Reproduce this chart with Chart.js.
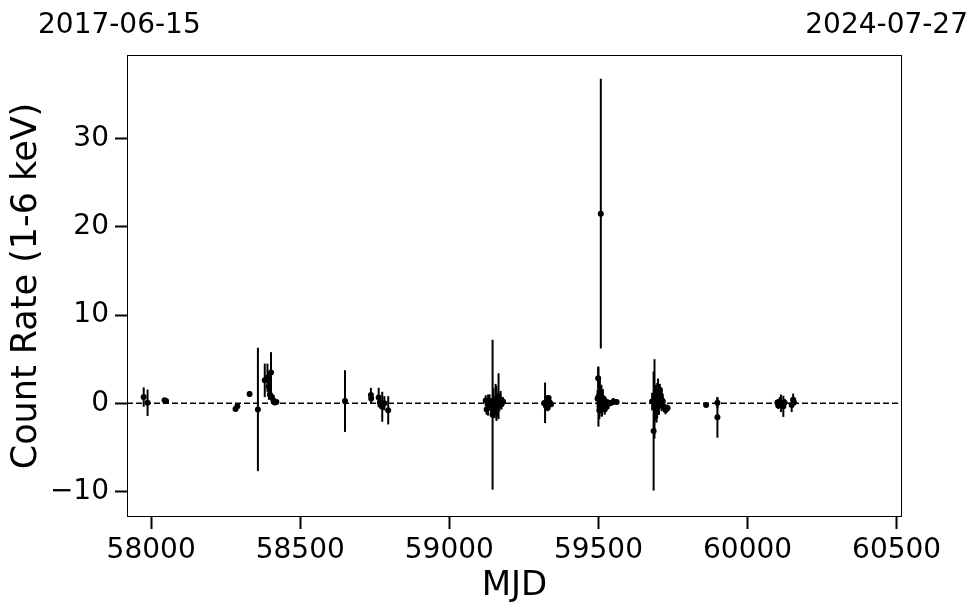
<!DOCTYPE html>
<html>
<head>
<meta charset="utf-8">
<script src="https://cdn.jsdelivr.net/npm/chart.js@4.4.1/dist/chart.umd.min.js"></script>
<style>
html, body { margin: 0; padding: 0; background: #fff; }
</style>
</head>
<body>
<canvas id="lc" width="980" height="613"></canvas>
<script>
// light curve points: MJD, count rate (1-6 keV), 1-sigma error
const mjd = [
	57975, 57988, 58045, 58050, 58283, 58289, 58330, 58358,
	58381, 58390, 58395, 58398, 58402, 58405, 58410, 58414, 58420,
	58650,
	58737, 58738, 58763, 58767, 58775, 58782, 58795,
	59122, 59125, 59130, 59135, 59140, 59145, 59148, 59152, 59155, 59158, 59162, 59165, 59168, 59172, 59175, 59180,
	59318, 59321, 59324, 59327, 59330, 59333, 59337, 59341,
	59497, 59499, 59500, 59503, 59505, 59508, 59510, 59512, 59515, 59518, 59521, 59524, 59528, 59532, 59540, 59550, 59561,
	59680, 59685, 59688, 59690, 59692, 59695, 59697, 59700, 59703, 59706, 59709, 59712, 59716, 59720, 59725, 59732,
	59861, 59899, 59899,
	60100, 60103, 60108, 60112, 60120, 60124, 60148, 60153, 60156
];
const rate = [
	0.7, 0.05, 0.35, 0.25, -0.65, -0.35, 1.05, -0.7,
	2.6, 2.9, 1.9, 1.0, 3.5, 0.7, 0.3, 0.1, 0.15,
	0.25,
	0.95, 0.55, 0.65, 0.1, -0.4, 0.0, -0.8,
	0.3, -0.7, -0.2, 0.1, -0.4, -1.3, 0.2, -0.9, 0.5, 0.0, -0.3, 0.8, 0.1, 0.4, -0.1, 0.2,
	0.0, 0.05, -0.3, 0.3, -0.5, 0.6, 0.1, -0.1,
	0.5, 2.85, 0.75, -0.8, 1.2, 21.5, 0.3, -0.3, 0.6, 0.0, -0.7, 0.2, -0.4, 0.1, 0.0, 0.2, 0.15,
	0.2, -3.15, 0.5, -0.5, 0.9, -1.0, 0.3, 1.0, -0.3, 1.5, 0.9, 0.4, 0.2, -0.4, -0.75, -0.55,
	-0.2, 0.05, -1.6,
	0.1, -0.25, 0.2, 0.0, -0.35, 0.1, -0.2, 0.4, 0.1
];
const rateErr = [
	1.1, 1.5, 0.15, 0.15, 0.15, 0.15, 0.3, 7.0,
	1.9, 1.6, 1.5, 0.6, 2.3, 0.4, 0.3, 0.3, 0.3,
	3.5,
	0.8, 0.5, 1.1, 0.6, 1.7, 0.8, 1.6,
	0.6, 0.6, 1.2, 0.9, 1.0, 8.5, 1.5, 0.8, 1.7, 2.0, 1.3, 2.6, 1.0, 1.0, 0.6, 0.5,
	0.3, 2.3, 0.5, 0.6, 0.4, 0.3, 0.3, 0.2,
	1.0, 1.3, 3.4, 1.0, 1.5, 15.3, 1.8, 1.2, 1.0, 0.8, 0.6, 0.5, 0.4, 0.3, 0.3, 0.4, 0.3,
	1.0, 6.75, 4.5, 1.5, 1.2, 1.2, 2.0, 1.8, 1.0, 0.7, 0.9, 1.3, 0.6, 0.5, 0.5, 0.4,
	0.15, 0.6, 2.3,
	0.3, 0.4, 0.5, 1.0, 1.2, 0.4, 0.8, 0.7, 0.3
];

const xTicks = [58000, 58500, 59000, 59500, 60000, 60500];
const yTicks = [-10, 0, 10, 20, 30];
const xRange = [57919, 60518];
const yRange = [-12.9, 39.5];
const zeroLevel = [0];
const dateLabels = ['2017-06-15', '2024-07-27'];

const FONT = 'DejaVu Sans';

const points = mjd.map((m, i) => ({x: m, y: rate[i]}));

const errorBars = {
	id: 'errorBars',
	beforeDatasetsDraw(chart) {
		const {ctx, chartArea, scales: {x, y}} = chart;
		ctx.save();
		ctx.beginPath();
		ctx.rect(chartArea.left, chartArea.top, chartArea.right - chartArea.left, chartArea.bottom - chartArea.top);
		ctx.clip();
		ctx.strokeStyle = '#000';
		ctx.lineWidth = 2;
		for (let i = 0; i < mjd.length; i++) {
			const px = x.getPixelForValue(mjd[i]);
			ctx.beginPath();
			ctx.moveTo(px, y.getPixelForValue(rate[i] - rateErr[i]));
			ctx.lineTo(px, y.getPixelForValue(rate[i] + rateErr[i]));
			ctx.stroke();
		}
		ctx.restore();
	}
};

const frameAndDates = {
	id: 'frameAndDates',
	afterDraw(chart) {
		const {ctx, chartArea} = chart;
		ctx.save();
		ctx.strokeStyle = '#000';
		ctx.lineWidth = 1;
		ctx.strokeRect(chartArea.left + 0.5, chartArea.top + 0.5, chartArea.right - chartArea.left - 1, chartArea.bottom - chartArea.top - 1);
		ctx.fillStyle = '#000';
		ctx.font = '28px "' + FONT + '"';
		ctx.textBaseline = 'alphabetic';
		ctx.textAlign = 'left';
		ctx.fillText(dateLabels[0], 38, 33);
		ctx.textAlign = 'right';
		ctx.fillText(dateLabels[1], 968, 33);
		ctx.restore();
	}
};

const fmt = v => v < 0 ? '\u2212' + Math.abs(v) : String(v);

new Chart(document.getElementById('lc'), {
	type: 'scatter',
	data: {
		datasets: [
			{
				type: 'line',
				data: xRange.map(v => ({x: v, y: zeroLevel[0]})),
				borderColor: '#000',
				borderWidth: 1.5,
				borderDash: [6, 3],
				pointRadius: 0,
				order: 2
			},
			{
				data: points,
				pointRadius: 3,
				pointBackgroundColor: '#000',
				pointBorderWidth: 0,
				order: 1
			}
		]
	},
	options: {
		responsive: false,
		animation: false,
		devicePixelRatio: 1,
		layout: {padding: {top: 55, right: 78, left: 0, bottom: 0}},
		plugins: {legend: {display: false}, tooltip: {enabled: false}},
		scales: {
			x: {
				type: 'linear',
				min: xRange[0],
				max: xRange[1],
				afterBuildTicks: s => { s.ticks = xTicks.map(v => ({value: v})); },
				afterFit: s => { s.height = 96; },
				ticks: {color: '#000', font: {family: FONT, size: 28}, padding: 5, maxRotation: 0, callback: v => String(v)},
				grid: {drawOnChartArea: false, drawTicks: true, tickLength: 12, tickWidth: 2, tickColor: '#000'},
				border: {display: false},
				title: {display: true, text: 'MJD', color: '#000', font: {family: FONT, size: 34}, padding: {top: 0, bottom: 6}}
			},
			y: {
				type: 'linear',
				min: yRange[0],
				max: yRange[1],
				afterBuildTicks: s => { s.ticks = yTicks.map(v => ({value: v})); },
				afterFit: s => { s.width = 127; },
				ticks: {color: '#000', font: {family: FONT, size: 28}, padding: 6, callback: fmt},
				grid: {drawOnChartArea: false, drawTicks: true, tickLength: 12, tickWidth: 2, tickColor: '#000'},
				border: {display: false},
				title: {display: true, text: 'Count Rate (1-6 keV)', color: '#000', font: {family: FONT, size: 35}, padding: {top: 6, bottom: 0}}
			}
		}
	},
	plugins: [errorBars, frameAndDates]
});
</script>
</body>
</html>
